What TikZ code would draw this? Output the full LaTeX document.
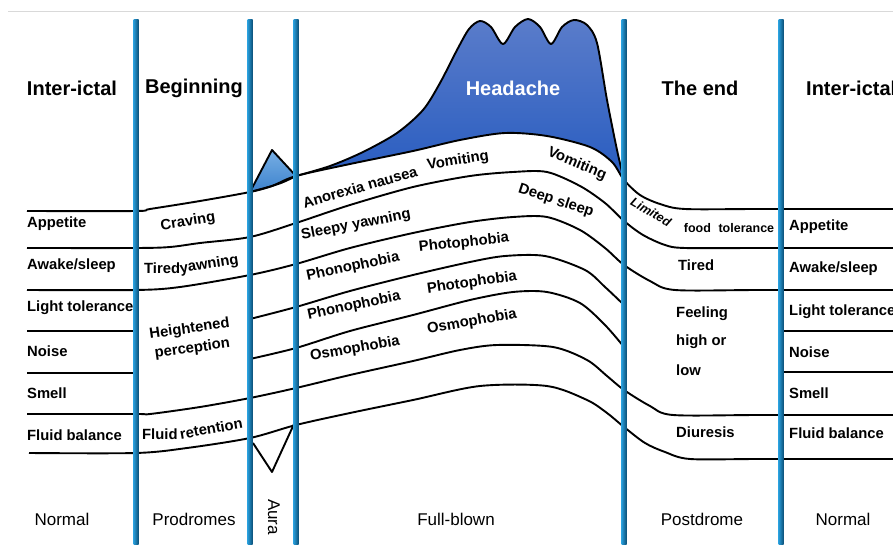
\documentclass[tikz,border=0pt]{standalone}
\usepackage{fontspec}
\setmainfont{Liberation Sans}
\definecolor{barlight}{RGB}{40,155,215}
\definecolor{bardark}{RGB}{12,80,120}
\definecolor{headtop}{RGB}{90,124,202}
\definecolor{headbot}{RGB}{40,92,192}
\definecolor{auratop}{RGB}{120,175,228}
\definecolor{aurabot}{RGB}{60,130,205}

\begin{document}
\begin{tikzpicture}[x=1pt,y=-1pt,
	curveline/.style={line width=1.9pt,line join=round},
	phaselbl/.style={font=\bfseries\fontsize{20}{22}\selectfont,inner sep=0pt},
	rowlbl/.style={font=\bfseries\fontsize{14.8}{16}\selectfont,inner sep=0pt},
	symlbl/.style={font=\bfseries\fontsize{14.8}{16}\selectfont,inner sep=0pt},
	stagelbl/.style={font=\fontsize{17}{20}\selectfont,inner sep=0pt}]
		\useasboundingbox (0,0) rectangle (893,545);
		\clip (0,0) rectangle (893,545);
		\draw[gray!30,line width=1pt] (8,12) -- (893,12);
		% headache and aura
		\shade[top color=headtop,bottom color=headbot] plot[smooth,tension=0.5] coordinates {(296,176) (330,166) (363,152) (397,133) (423,110) (440,83) (457,50) (469,29) (480,21) (491,27) (503,44) (515,27) (528,19) (540,27) (551,44) (562,27) (574,20) (587,25) (597,43) (607,100) (617,150) (624,180)}
			-- plot[smooth,tension=0.5] coordinates {(624,180) (612,162) (590,147) (547,136) (505,133) (460,140) (413,151) (350,164) (296,176)} -- cycle;
		\draw[curveline] plot[smooth,tension=0.5] coordinates {(296,176) (330,166) (363,152) (397,133) (423,110) (440,83) (457,50) (469,29) (480,21) (491,27) (503,44) (515,27) (528,19) (540,27) (551,44) (562,27) (574,20) (587,25) (597,43) (607,100) (617,150) (624,180)};
		\draw[curveline,top color=auratop,bottom color=aurabot] (250,192) -- (272,150) -- (296,176) .. controls (280,184) .. (250,192) -- cycle;
		\draw[curveline] (253,443) -- (272,472) -- (294,424);
		% symptom lines
		\draw[curveline] plot[smooth,tension=0.5] coordinates {(27,211) (136,211) (150,209) (200,201) (250,192) (272,186) (296,176) (350,164) (413,151) (460,140) (505,133) (547,136) (590,147) (612,162) (624,180) (640,195) (660,204) (685,209) (760,209) (893,209)};
		\draw[curveline] plot[smooth,tension=0.5] coordinates {(27,248) (136,248) (170,247) (200,243) (250,237) (296,223) (350,205) (413,187) (470,176) (513,172) (547,172) (580,186) (605,203) (624,221) (643,235) (665,245) (685,248) (760,248) (893,248)};
		\draw[curveline] plot[smooth,tension=0.5] coordinates {(27,290) (136,290) (180,287) (250,275) (296,264) (350,248) (413,233) (470,222) (513,217) (547,217) (580,230) (605,248) (624,265) (650,281) (675,290) (760,290) (893,290)};
		\draw[curveline] (27,331) -- (136,331);
		\draw[curveline] plot[smooth,tension=0.5] coordinates {(250,319) (296,307) (350,291) (413,275) (470,262) (505,256) (545,256) (585,270) (605,287) (624,305)};
		\draw[curveline] (781,331) -- (893,331);
		\draw[curveline] (27,373) -- (136,373);
		\draw[curveline] plot[smooth,tension=0.5] coordinates {(250,359) (296,348) (350,331) (413,315) (470,300) (513,292) (547,292) (580,303) (605,325) (624,347)};
		\draw[curveline] (781,372) -- (893,372);
		\draw[curveline] plot[smooth,tension=0.5] coordinates {(27,414) (136,414) (150,414) (200,407) (250,398) (296,388) (350,375) (413,361) (460,350) (497,345) (553,347) (587,360) (607,376) (624,390) (650,406) (673,415) (760,415) (893,415)};
		\draw[curveline] plot[smooth,tension=0.5] coordinates {(29,453) (136,453) (187,448) (250,438) (296,425) (350,413) (413,400) (480,386) (547,386) (587,400) (607,413) (624,427) (645,443) (665,452) (690,459) (760,459) (893,459)};
		% phase bars
		\shade[left color=barlight,right color=bardark] (133.5,20) rectangle (138.5,545);
		\shade[left color=barlight,right color=bardark] (247.5,20) rectangle (252.5,545);
		\shade[left color=barlight,right color=bardark] (293.5,20) rectangle (298.5,545);
		\shade[left color=barlight,right color=bardark] (621.5,20) rectangle (626.5,545);
		\shade[left color=barlight,right color=bardark] (778.5,20) rectangle (783.5,545);
		% headings
		\node[phaselbl] (interL) at (72,88) {Inter-ictal};
		\node[phaselbl] (begin) at (194,88) {Beginning};
		\node[phaselbl,text=white] (head) at (513,88) {Headache};
		\node[phaselbl] (theend) at (700,88) {The end};
		\node[phaselbl,anchor=west] (interR) at (806,88) {Inter-ictal};
		% left rows
		\node[rowlbl,anchor=west] (appL) at (27,224) {Appetite};
		\node[rowlbl,anchor=west] (wakeL) at (27,266) {Awake/sleep};
		\node[rowlbl,anchor=west] (lightL) at (27,308) {Light tolerance};
		\node[rowlbl,anchor=west] (noiseL) at (27,351) {Noise};
		\node[rowlbl,anchor=west] (smellL) at (27,393) {Smell};
		\node[rowlbl,anchor=west] (fluidL) at (27,435) {Fluid balance};
		% right rows
		\node[rowlbl,anchor=west] (appR) at (789,227) {Appetite};
		\node[rowlbl,anchor=west] (wakeR) at (789,269) {Awake/sleep};
		\node[rowlbl,anchor=west] (lightR) at (789,312) {Light tolerance};
		\node[rowlbl,anchor=west] (noiseR) at (789,352) {Noise};
		\node[rowlbl,anchor=west] (smellR) at (789,393) {Smell};
		\node[rowlbl,anchor=west] (fluidR) at (789,433) {Fluid balance};
		% prodromes
		\node[symlbl,rotate=9] (crave) at (188,222) {Craving};
		\node[symlbl,anchor=west] (tired) at (144,268) {Tired};
		\node[symlbl,rotate=9,anchor=base west] (yawnB) at (tired.base east) {yawning};
		\node[symlbl,rotate=8,align=center] (height) at (191,339) {Heightened\\[4pt]perception};
		\node[symlbl,anchor=west] (fluidB) at (142,434) {Fluid};
		\node[symlbl,rotate=10,anchor=base west] (retain) at ([xshift=3pt]fluidB.base east) {retention};
		% full-blown
		\node[symlbl,rotate=16] (anorex) at (360,187) {Anorexia nausea};
		\node[symlbl,rotate=9] (vomA) at (458,161) {Vomiting};
		\node[symlbl,rotate=-23] (vomB) at (577,164) {Vomiting};
		\node[symlbl,rotate=11] (sleepy) at (356,225) {Sleepy yawning};
		\node[symlbl,rotate=-18] (deep) at (556,201) {Deep sleep};
		\node[symlbl,rotate=12] (phonoA) at (353,267) {Phonophobia};
		\node[symlbl,rotate=6] (photoA) at (464,243) {Photophobia};
		\node[symlbl,rotate=12] (phonoB) at (354,306) {Phonophobia};
		\node[symlbl,rotate=8] (photoB) at (472,283) {Photophobia};
		\node[symlbl,rotate=10] (osmoA) at (355,349) {Osmophobia};
		\node[symlbl,rotate=10] (osmoB) at (472,322) {Osmophobia};
		% postdrome
		\node[symlbl,rotate=-30,font=\bfseries\itshape\fontsize{12.5}{14}\selectfont] (limit) at (651,212) {Limited};
		\node[symlbl,font=\bfseries\fontsize{12.5}{14}\selectfont] (food) at (729,228) {food\,\, tolerance};
		\node[symlbl,anchor=west] (tiredP) at (678,265) {Tired};
		\node[symlbl,anchor=west] (feel) at (676,314) {Feeling};
		\node[symlbl,anchor=west] (high) at (676,342) {high or};
		\node[symlbl,anchor=west] (low) at (676,370) {low};
		\node[symlbl,anchor=west] (diur) at (676,432) {Diuresis};
		% stages
		\node[stagelbl] (normL) at (62,519) {Normal};
		\node[stagelbl] (prod) at (194,519) {Prodromes};
		\node[stagelbl,rotate=-90] (aura) at (274,517) {Aura};
		\node[stagelbl] (full) at (456,519) {Full-blown};
		\node[stagelbl] (post) at (702,519) {Postdrome};
		\node[stagelbl] (normR) at (843,519) {Normal};
	\end{tikzpicture}
\end{document}
